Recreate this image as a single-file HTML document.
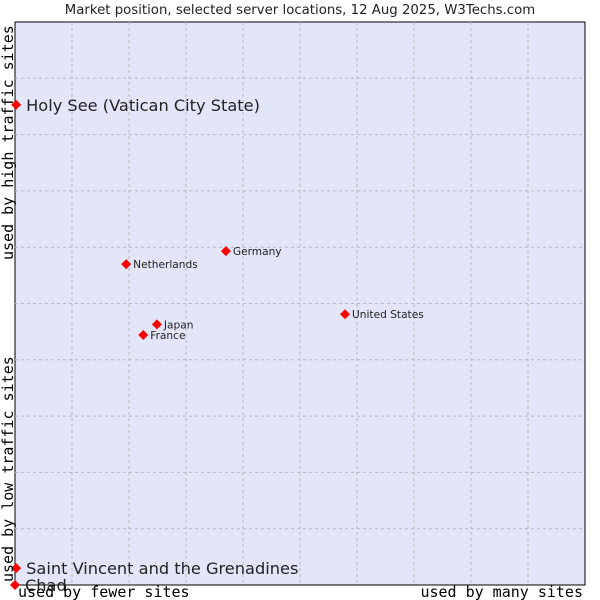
<!DOCTYPE html>
<html><head><meta charset="utf-8"><style>
body{margin:0;background:#fff;width:600px;height:600px;overflow:hidden}
svg{display:block}
</style></head><body>
<svg id="chart" width="600" height="600" xmlns="http://www.w3.org/2000/svg">
<text x="300" y="14" text-anchor="middle" font-family="DejaVu Sans, sans-serif" font-size="13.3" fill="#222">Market position, selected server locations, 12 Aug 2025, W3Techs.com</text>
<rect x="15" y="22" width="570" height="563" fill="#e3e5f8" stroke="#000" stroke-width="1"/>
<g id="grid"></g>
<g id="pts"></g>
<text transform="translate(13,260) rotate(-90)" font-family="DejaVu Sans Mono, Liberation Mono, monospace" font-size="15" fill="#000">used by high traffic sites</text>
<text transform="translate(13,582) rotate(-90)" font-family="DejaVu Sans Mono, Liberation Mono, monospace" font-size="15" fill="#000">used by low traffic sites</text>
<text x="18" y="597" font-family="DejaVu Sans Mono, Liberation Mono, monospace" font-size="15" fill="#000">used by fewer sites</text>
<text x="583" y="597" text-anchor="end" font-family="DejaVu Sans Mono, Liberation Mono, monospace" font-size="15" fill="#000">used by many sites</text>
</svg>
<script>
const names=["Holy See (Vatican City State)","Germany","Netherlands","United States","Japan","France","Saint Vincent and the Grenadines","Chad"];
const xVals=[0.02,3.7,1.95,5.79,2.49,2.25,0.02,0];
const yVals=[8.53,5.93,5.7,4.81,4.63,4.44,0.3,0];
const big=[true,false,false,false,false,false,true,true];
const L=15,T=22,W=570,H=563,NS="http://www.w3.org/2000/svg";
const sx=v=>L+v/10*W, sy=v=>T+H-v/10*H;
const g=document.getElementById('grid');
for(let i=1;i<10;i++){
 let l=document.createElementNS(NS,'line');
 l.setAttribute('x1',sx(i));l.setAttribute('x2',sx(i));l.setAttribute('y1',T);l.setAttribute('y2',T+H);
 l.setAttribute('stroke','#b8b8b8');l.setAttribute('stroke-dasharray','3,3');
 
 
 g.appendChild(l);
 let m=document.createElementNS(NS,'line');
 m.setAttribute('y1',sy(i));m.setAttribute('y2',sy(i));m.setAttribute('x1',L);m.setAttribute('x2',L+W);
 m.setAttribute('stroke','#b8b8b8');m.setAttribute('stroke-dasharray','3,3');
 
 
 g.appendChild(m);
}
const p=document.getElementById('pts');
names.forEach((n,i)=>{
 const x=sx(xVals[i]),y=sy(yVals[i]);
 const d=document.createElementNS(NS,'path');
 d.setAttribute('d',`M${x} ${y-5}L${x+5} ${y}L${x} ${y+5}L${x-5} ${y}Z`);
 d.setAttribute('fill','#f00');
 
 
 p.appendChild(d);
 const t=document.createElementNS(NS,'text');
 t.setAttribute('x',x+(big[i]?10:7));t.setAttribute('y',y+(big[i]?6:4));
 t.setAttribute('font-family','DejaVu Sans, sans-serif');
 t.setAttribute('font-size',big[i]?'16.2':'10.6');
 t.setAttribute('fill','#222');
 t.textContent=n;
 
 
 p.appendChild(t);
});
</script>
</body></html>
